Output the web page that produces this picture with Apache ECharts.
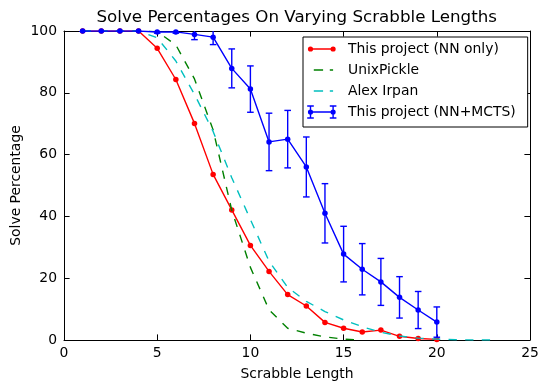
<!DOCTYPE html>
<html><head><meta charset="utf-8">
<script src="https://cdn.jsdelivr.net/npm/echarts@6/dist/echarts.min.js"></script>
<style>html,body{margin:0;padding:0;background:#fff}#c{width:547px;height:391px}</style>
</head><body><div id="c"></div>
<script>
// ---- data ----
const nnLengths = [1,2,3,4,5,6,7,8,9,10,11,12,13,14,15,16,17,18,19,20];
const nnOnly = [100,100,100,100,94.4,84.3,70.1,53.6,42.1,30.6,22.2,14.7,11.0,5.7,3.8,2.6,3.2,1.2,0.5,0.2];

const unixLengths = [1,2,3,4,5,6,7,8,9,10,11,12,13,14,15,16];
const unixPickle = [100,100,100,100,99.8,95.5,84.5,68,42,23.5,9.8,3.8,2.2,1.0,0.3,0];

const irpanLengths = [1,2,3,4,5,6,7,8,9,10,11,12,13,14,15,16,17,18,19,20,21,22,23];
const alexIrpan = [100,100,100,100,97.8,90.3,79.5,67.5,52.5,39,25.5,17,12.5,9.2,6.5,4.3,2.5,1.3,0.6,0.3,0.1,0,0];

const mctsLengths = [1,2,3,4,5,6,7,8,9,10,11,12,13,14,15,16,17,18,19,20];
const nnMcts = [100,100,100,100,99.7,99.7,98.9,98.0,87.9,81.2,64.1,65.0,56.0,41.0,27.8,22.9,18.8,13.8,9.7,5.8];
const nnMctsErr = [0,0,0,0,0.4,0.4,1.7,2.4,6.3,7.5,9.3,9.3,9.7,9.6,9.0,8.3,7.6,6.7,6.0,4.9];

const xTicks = {min:0, max:25, interval:5};
const yTicks = {min:0, max:100, interval:20};

const seriesNames = ['This project (NN only)','UnixPickle','Alex Irpan','This project (NN+MCTS)'];
const titleText = 'Solve Percentages On Varying Scrabble Lengths';
const xName = 'Scrabble Length';
const yName = 'Solve Percentage';

// ---- style ----
const F = 'DejaVu Sans';
const RED = '#ff0000', GREEN = '#008000', CYAN = '#00bfbf', BLUE = '#0000ff';
const LW = 1.4;
const DASH = [8.3, 8.3];

const pair = (xs, ys) => xs.map((x, i) => [x, ys[i]]);

const circ = (cx, cy, r) => `M${cx-r} ${cy} A${r} ${r} 0 1 1 ${cx+r} ${cy} A${r} ${r} 0 1 1 ${cx-r} ${cy} Z`;
const rect = (x1, y1, x2, y2) => `M${x1} ${y1} L${x2} ${y1} L${x2} ${y2} L${x1} ${y2} Z`;
const FRAME = ' M0 0 M36 14';
const iconMarkerLine = 'path://' + rect(3.5,6.3,26.1,7.7) + ' ' + circ(3.5,7,2.6) + ' ' + circ(26.1,7,2.6) + FRAME;
const iconDash = 'path://' + rect(6.8,6.3,16.1,7.7) + ' ' + rect(22.8,6.3,26.1,7.7) + FRAME;
const iconErr = 'path://' + rect(3.5,6.3,26.1,7.7) + ' ' + circ(3.5,7,2.6) + ' ' + circ(26.1,7,2.6) + ' ' +
  rect(2.8,0.3,4.2,13.7) + ' ' + rect(25.4,0.3,26.8,13.7) + ' ' +
  rect(0.2,0.3,6.8,1.7) + ' ' + rect(0.2,12.3,6.8,13.7) + ' ' +
  rect(22.8,0.3,29.4,1.7) + ' ' + rect(22.8,12.3,29.4,13.7) + FRAME;

const chart = echarts.init(document.getElementById('c'), null, {renderer:'canvas'});

const axisCommon = {
  axisLine:{show:true, onZero:false, lineStyle:{color:'#000', width:1}},
  axisTick:{show:true, inside:true, length:5.6, lineStyle:{color:'#000', width:1}},
  splitLine:{show:false}
};

chart.setOption({
  animation:false,
  backgroundColor:'#fff',
  textStyle:{fontFamily:F},
  title:{
    text:titleText, left:96.5, top:7.5, padding:0,
    textStyle:{fontFamily:F, fontSize:16.7, fontWeight:'normal', color:'#000', lineHeight:20}
  },
  grid:{left:64, top:31, width:466, height:309, outerBoundsMode:'none', containLabel:false},
  legend:{
    orient:'vertical', left:303, top:37,
    padding:[5,12,8,4], itemGap:7, itemWidth:36, itemHeight:14,
    backgroundColor:'#fff', borderColor:'#000', borderWidth:1, borderRadius:0,
    textStyle:{fontFamily:F, fontSize:13.9, color:'#000', lineHeight:14},
    selectedMode:false, z:10,
    data:[
      {name:seriesNames[0], icon:iconMarkerLine, itemStyle:{color:RED, borderWidth:0}},
      {name:seriesNames[1], icon:iconDash, itemStyle:{color:GREEN, borderWidth:0}},
      {name:seriesNames[2], icon:iconDash, itemStyle:{color:CYAN, borderWidth:0}},
      {name:seriesNames[3], icon:iconErr, itemStyle:{color:BLUE, borderWidth:0}}
    ]
  },
  xAxis:[
    Object.assign({type:'value', position:'bottom', min:xTicks.min, max:xTicks.max, interval:xTicks.interval,
      name:xName, nameLocation:'middle', nameGap:27, nameMoveOverlap:false,
      nameTextStyle:{fontFamily:F, fontSize:13.9, color:'#000'},
      axisLabel:{show:true, margin:6, fontFamily:F, fontSize:13.9, color:'#000'}}, axisCommon),
    Object.assign({type:'value', position:'top', min:xTicks.min, max:xTicks.max, interval:xTicks.interval,
      axisLabel:{show:false}}, axisCommon)
  ],
  yAxis:[
    Object.assign({type:'value', position:'left', min:yTicks.min, max:yTicks.max, interval:yTicks.interval,
      name:yName, nameLocation:'middle', nameGap:41, nameMoveOverlap:false,
      nameTextStyle:{fontFamily:F, fontSize:13.9, color:'#000'},
      axisLabel:{show:true, margin:7, fontFamily:F, fontSize:13.9, color:'#000'}}, axisCommon),
    Object.assign({type:'value', position:'right', min:yTicks.min, max:yTicks.max, interval:yTicks.interval,
      axisLabel:{show:false}}, axisCommon)
  ],
  series:[
    {name:seriesNames[0], type:'line', data:pair(nnLengths, nnOnly), z:2,
     symbol:'circle', symbolSize:5.5, showAllSymbol:true,
     itemStyle:{color:RED}, lineStyle:{color:RED, width:LW}},
    {name:seriesNames[1], type:'line', data:pair(unixLengths, unixPickle), z:3,
     symbol:'none', itemStyle:{color:GREEN}, lineStyle:{color:GREEN, width:LW, type:DASH}},
    {name:seriesNames[2], type:'line', data:pair(irpanLengths, alexIrpan), z:4,
     symbol:'none', itemStyle:{color:CYAN}, lineStyle:{color:CYAN, width:LW, type:DASH}},
    {name:seriesNames[3], type:'line', data:pair(mctsLengths, nnMcts), z:6,
     symbol:'circle', symbolSize:5.5, showAllSymbol:true,
     itemStyle:{color:BLUE}, lineStyle:{color:BLUE, width:LW}},
    {name:'errors', type:'custom', z:5, clip:true,
     data:mctsLengths.map((x, i) => [x, nnMcts[i] - nnMctsErr[i], nnMcts[i] + nnMctsErr[i]]),
     renderItem:function(params, api){
       const x = api.value(0);
       const lo = api.coord([x, api.value(1)]);
       const hi = api.coord([x, api.value(2)]);
       const cap = 3.3;
       const st = {stroke:BLUE, lineWidth:LW, fill:null};
       return {type:'group', children:[
         {type:'line', shape:{x1:lo[0], y1:lo[1], x2:hi[0], y2:hi[1]}, style:st},
         {type:'line', shape:{x1:lo[0]-cap, y1:lo[1], x2:lo[0]+cap, y2:lo[1]}, style:st},
         {type:'line', shape:{x1:hi[0]-cap, y1:hi[1], x2:hi[0]+cap, y2:hi[1]}, style:st}
       ]};
     }}
  ]
});
</script>
</body></html>
